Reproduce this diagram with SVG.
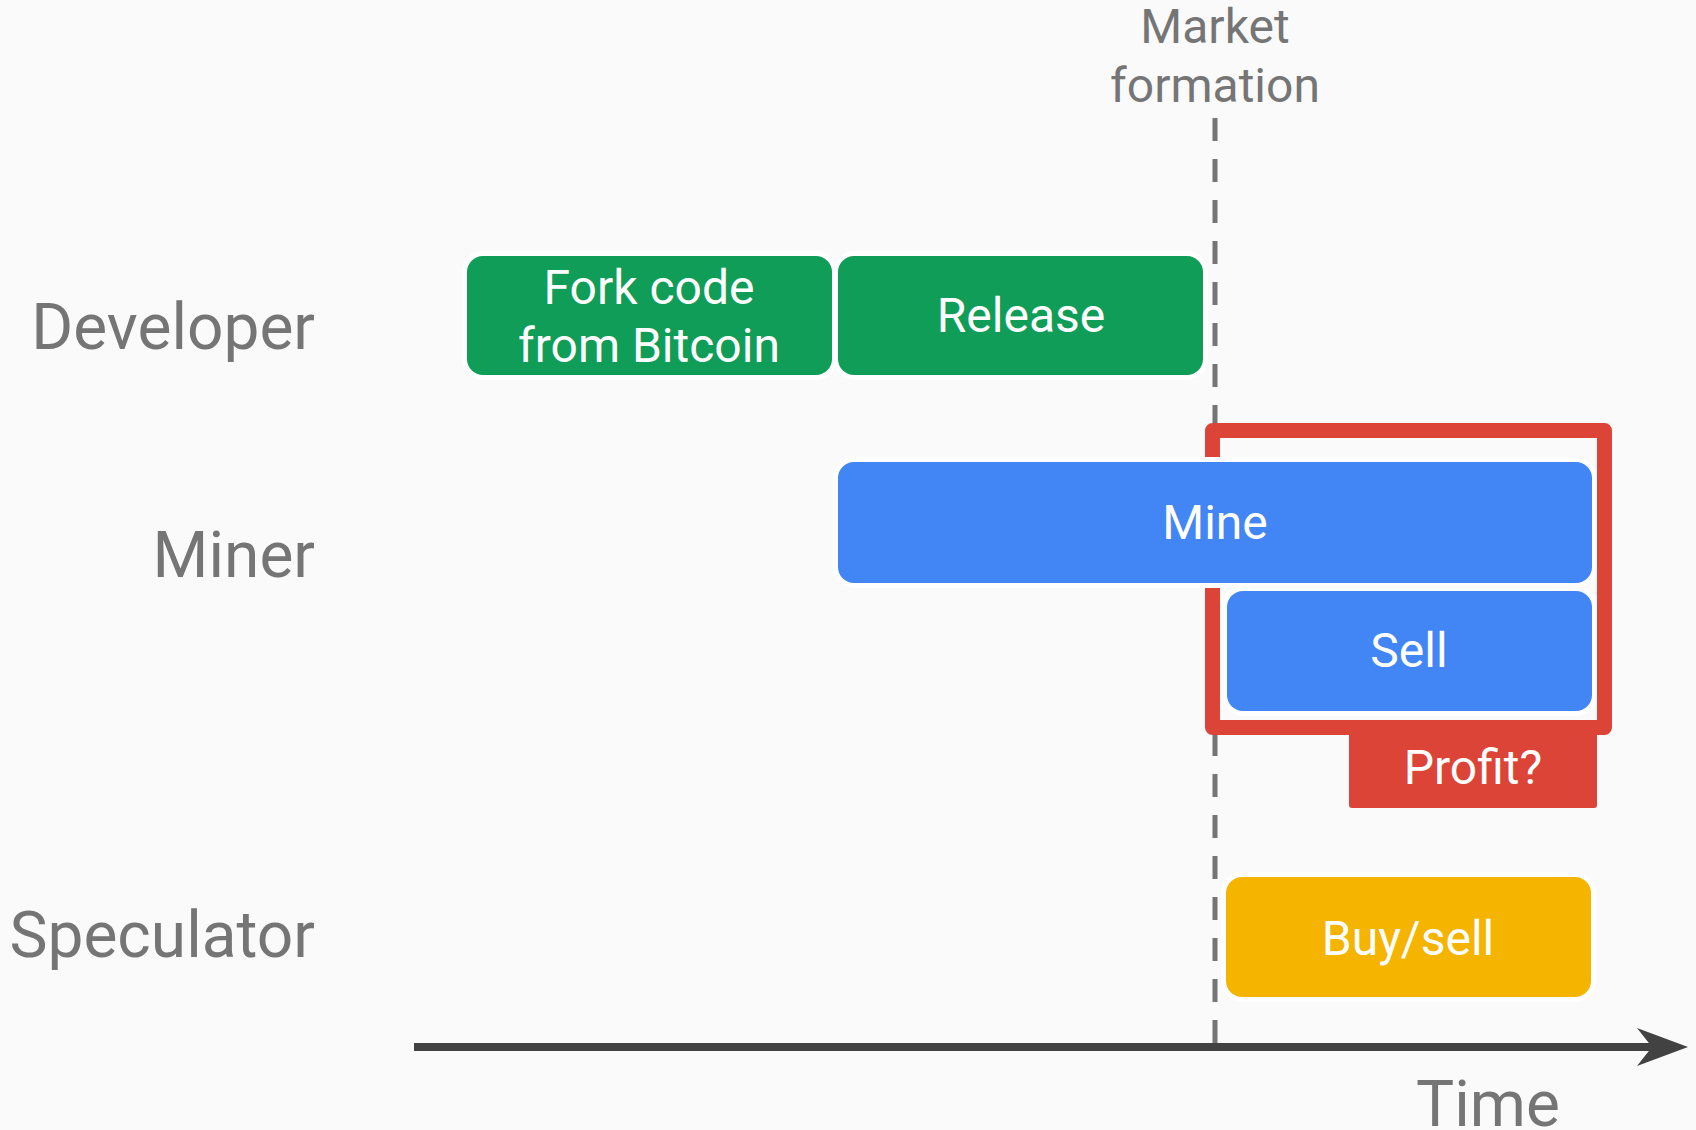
<svg xmlns="http://www.w3.org/2000/svg" width="1696" height="1130" viewBox="0 0 1696 1130">
  <style>
    .lane { font-family: Roboto, "Liberation Sans", sans-serif; font-size: 64px; fill: #757575; }
    .note { font-family: Roboto, "Liberation Sans", sans-serif; font-size: 48px; fill: #757575; text-anchor: middle; }
    .box { stroke: #ffffff; stroke-width: 10; paint-order: stroke; }
    .label { font-family: Roboto, "Liberation Sans", sans-serif; font-size: 48px; fill: #ffffff; text-anchor: middle; }
    .dev { fill: #0F9D58; }
    .mine { fill: #4285F4; }
    .spec { fill: #F4B400; }
  </style>
  <rect width="1696" height="1130" fill="#FAFAFA"/>

  <!-- lane titles -->
  <text class="lane" x="315" y="349" text-anchor="end">Developer</text>
  <text class="lane" x="315" y="577" text-anchor="end">Miner</text>
  <text class="lane" x="315" y="957" text-anchor="end">Speculator</text>

  <!-- market formation marker -->
  <text class="note" x="1215" y="43">Market</text>
  <text class="note" x="1215" y="102">formation</text>

  <g id="connectors">
    <line x1="1215" y1="118" x2="1215" y2="1046" stroke="#757575" stroke-width="5" stroke-dasharray="23 18"/>
  </g>

  <g id="fork">
    <rect class="box dev" x="467" y="256" width="365" height="119" rx="16"/>
    <text class="label" x="649" y="304">Fork code</text>
    <text class="label" x="649" y="362">from Bitcoin</text>
  </g>

  <g id="release">
    <rect class="box dev" x="838" y="256" width="365" height="119" rx="16"/>
    <text class="label" x="1021" y="332">Release</text>
  </g>

  <g id="profit">
    <rect x="1212.5" y="430.5" width="392" height="297" fill="none" stroke="#DB4437" stroke-width="15" stroke-linejoin="round"/>
    <rect x="1349" y="727" width="248" height="81" rx="3" fill="#DB4437"/>
    <text class="label" x="1473" y="784">Profit?</text>
  </g>

  <g id="mine">
    <rect class="box mine" x="838" y="462" width="754" height="121" rx="16"/>
    <text class="label" x="1215" y="539">Mine</text>
  </g>

  <g id="sell">
    <rect class="box mine" x="1227" y="591" width="365" height="120" rx="16"/>
    <text class="label" x="1409" y="667">Sell</text>
  </g>

  <g id="buysell">
    <rect class="box spec" x="1226" y="877" width="365" height="120" rx="16"/>
    <text class="label" x="1408" y="955">Buy/sell</text>
  </g>

  <g id="axis">
    <line x1="414" y1="1047" x2="1660" y2="1047" stroke="#424242" stroke-width="8"/>
    <polygon points="1637,1028 1688,1047 1637,1066 1652,1047" fill="#424242"/>
    <text class="lane" x="1488" y="1126" text-anchor="middle">Time</text>
  </g>
</svg>
